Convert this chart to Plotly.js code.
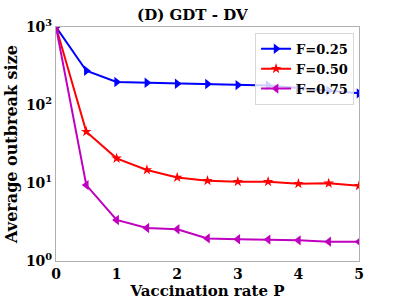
<!DOCTYPE html>
<html>
<head>
<meta charset="utf-8">
<script src="https://cdn.plot.ly/plotly-3.0.1.min.js"></script>
<style>html,body{margin:0;padding:0;background:#fff;}#chart{width:399px;height:300px;}</style>
</head>
<body>
<div id="chart"></div>
<script>
const rates = [0, 0.5, 1, 1.5, 2, 2.5, 3, 3.5, 4, 4.5, 5];
const f025 = [1000, 275, 197, 193, 187, 186, 180, 178, 165, 153, 141];
const f050 = [1000, 45.5, 20.7, 14.7, 11.8, 10.7, 10.4, 10.4, 9.8, 9.9, 9.2];
const f075 = [1000, 9.4, 3.36, 2.65, 2.55, 1.95, 1.9, 1.88, 1.84, 1.77, 1.77];
const seriesNames = ['F=0.25', 'F=0.50', 'F=0.75'];
const yTickVals = [1, 10, 100, 1000];
const yTickText = ['10<sup>0</sup>', '10<sup>1</sup>', '10<sup>2</sup>', '10<sup>3</sup>'];
const xTickVals = [0, 1, 2, 3, 4, 5];
const xTickText = ['0', '1', '2', '3', '4', '5'];

const font = {family: 'DejaVu Serif', color: '#000'};
const b = s => '<b>' + s + '</b>';
function tr(y, name, color, symbol, size) {
  return {x: rates, y: y, name: b(name), type: 'scatter', mode: 'lines+markers',
    line: {color: color, width: 2}, marker: {color: color, symbol: symbol, size: size}};
}
const data = [
  tr(f025, seriesNames[0], '#0000ff', 'triangle-right', 9),
  tr(f050, seriesNames[1], '#ff0000', 'star', 8),
  tr(f075, seriesNames[2], '#bf00bf', 'triangle-left', 9)
];
const layout = {
  width: 399, height: 300,
  margin: {l: 56, r: 40, t: 27, b: 39},
  paper_bgcolor: '#fff', plot_bgcolor: '#fff',
  font: Object.assign({size: 13}, font),
  title: {text: b('(D) GDT - DV'), font: Object.assign({size: 15}, font), xref: 'paper', x: 0.45, xanchor: 'center', yref: 'container', y: 0.97, yanchor: 'top'},
  xaxis: {range: [0, 5], tickvals: xTickVals, ticktext: xTickText.map(b), ticks: '', showgrid: false, zeroline: false,
    showline: true, linecolor: '#b0b0b0', linewidth: 1, mirror: true,
    tickfont: Object.assign({size: 14}, font),
    title: {text: b('Vaccination rate P'), font: Object.assign({size: 15}, font), standoff: 2}},
  yaxis: {type: 'log', range: [0, 3], tickvals: yTickVals, ticktext: yTickText.map(b), ticks: '', showgrid: false, zeroline: false,
    showline: true, linecolor: '#b0b0b0', linewidth: 1, mirror: true,
    tickfont: Object.assign({size: 14}, font),
    title: {text: b('Average outbreak size'), font: Object.assign({size: 16}, font), standoff: 4}},
  legend: {x: 0.657, y: 0.975, xanchor: 'left', yanchor: 'top',
    bgcolor: 'rgba(255,255,255,0.8)', bordercolor: '#d8d8d8', borderwidth: 1,
    font: Object.assign({size: 13}, font), tracegroupgap: 0},
  showlegend: true
};
Plotly.newPlot('chart', data, layout, {displayModeBar: false, staticPlot: true});
</script>
</body>
</html>
